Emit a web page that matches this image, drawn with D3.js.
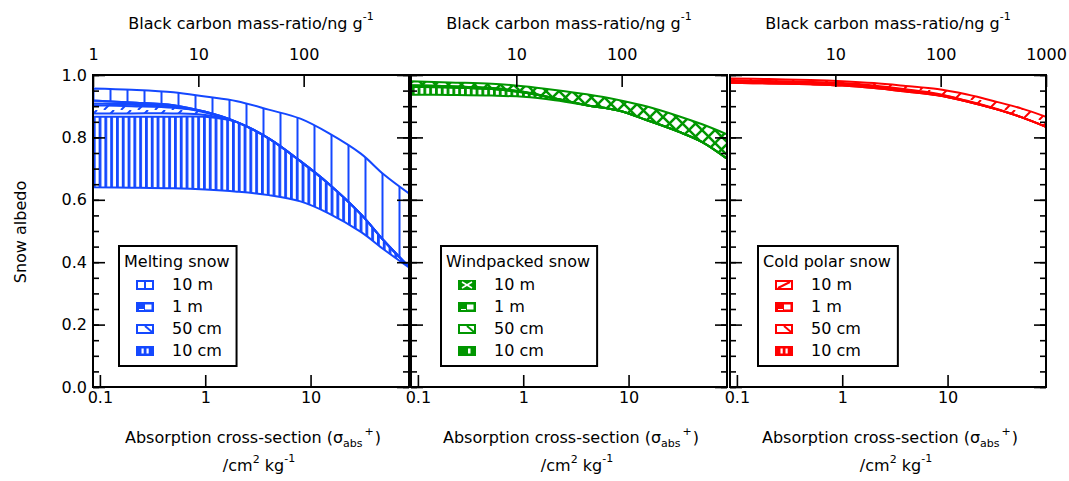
<!DOCTYPE html>
<html>
<head>
<meta charset="utf-8">
<script src="https://cdn.jsdelivr.net/npm/d3@7"></script>
<style>
  body { margin: 0; background: #fff; }
  text { font-family: "DejaVu Sans", sans-serif; }
</style>
</head>
<body>
<div id="app"></div>
<script>
// absorption cross-section sample points (cm2 kg-1)
const sigma = [0.086, 0.2, 0.5, 1, 2, 4, 8, 15, 30, 50, 86];

// Melting snow
const melt10mHi  = [0.957, 0.953, 0.945, 0.931, 0.916, 0.889, 0.860, 0.813, 0.748, 0.680, 0.620];
const melt10mLo  = [0.918, 0.912, 0.903, 0.882, 0.849, 0.797, 0.724, 0.650, 0.554, 0.468, 0.385];
const melt1mHi   = [0.918, 0.912, 0.903, 0.882, 0.849, 0.797, 0.724, 0.650, 0.554, 0.468, 0.385];
const melt1mLo   = [0.909, 0.905, 0.898, 0.880, 0.849, 0.797, 0.724, 0.650, 0.554, 0.468, 0.385];
const melt50cmHi = [0.903, 0.900, 0.895, 0.882, 0.849, 0.797, 0.724, 0.650, 0.554, 0.468, 0.385];
const melt50cmLo = [0.877, 0.877, 0.877, 0.872, 0.849, 0.797, 0.724, 0.650, 0.554, 0.468, 0.385];
const melt10cmHi = [0.866, 0.866, 0.866, 0.866, 0.849, 0.797, 0.724, 0.650, 0.554, 0.468, 0.385];
const melt10cmLo = [0.640, 0.639, 0.637, 0.633, 0.626, 0.615, 0.595, 0.556, 0.497, 0.440, 0.383];

// Windpacked snow
const wind10mHi  = [0.980, 0.976, 0.972, 0.964, 0.952, 0.938, 0.920, 0.899, 0.868, 0.842, 0.810];
const wind10mLo  = [0.967, 0.964, 0.958, 0.946, 0.925, 0.903, 0.886, 0.855, 0.818, 0.785, 0.732];
const wind1mHi   = [0.967, 0.964, 0.958, 0.946, 0.925, 0.903, 0.886, 0.855, 0.818, 0.785, 0.732];
const wind1mLo   = [0.965, 0.962, 0.956, 0.945, 0.925, 0.903, 0.886, 0.855, 0.818, 0.785, 0.732];
const wind50cmHi = [0.965, 0.962, 0.956, 0.945, 0.925, 0.903, 0.886, 0.855, 0.818, 0.785, 0.732];
const wind50cmLo = [0.962, 0.960, 0.955, 0.944, 0.925, 0.903, 0.886, 0.855, 0.818, 0.785, 0.732];
const wind10cmHi = [0.962, 0.960, 0.955, 0.944, 0.925, 0.903, 0.886, 0.855, 0.818, 0.785, 0.732];
const wind10cmLo = [0.937, 0.936, 0.934, 0.930, 0.919, 0.903, 0.886, 0.855, 0.818, 0.785, 0.732];

// Cold polar snow
const cold10mHi  = [0.989, 0.987, 0.984, 0.980, 0.974, 0.965, 0.955, 0.938, 0.913, 0.893, 0.866];
const cold10mLo  = [0.975, 0.973, 0.970, 0.966, 0.958, 0.947, 0.935, 0.916, 0.889, 0.865, 0.834];
const cold1mHi   = [0.983, 0.981, 0.978, 0.974, 0.966, 0.954, 0.940, 0.918, 0.890, 0.865, 0.834];
const cold1mLo   = [0.980, 0.978, 0.975, 0.971, 0.963, 0.951, 0.938, 0.917, 0.889, 0.865, 0.834];
const cold50cmHi = [0.980, 0.978, 0.975, 0.971, 0.963, 0.951, 0.938, 0.917, 0.889, 0.865, 0.834];
const cold50cmLo = [0.978, 0.976, 0.973, 0.969, 0.961, 0.949, 0.936, 0.916, 0.889, 0.865, 0.834];
const cold10cmHi = [0.978, 0.976, 0.973, 0.969, 0.961, 0.949, 0.936, 0.916, 0.889, 0.865, 0.834];
const cold10cmLo = [0.975, 0.973, 0.970, 0.966, 0.958, 0.947, 0.935, 0.916, 0.889, 0.865, 0.834];

const thicknessLabels = ["10 m", "1 m", "50 cm", "10 cm"];
const panelTitles = ["Melting snow", "Windpacked snow", "Cold polar snow"];
const yTicks = [0.0, 0.2, 0.4, 0.6, 0.8, 1.0];
const bottomTicks = [[0.1, 1, 10], [0.1, 1, 10], [0.1, 1, 10]];
const topTicks = [[1, 10, 100], [10, 100], [10, 100, 1000]];

const panels = [
    { color: "#1448ff", bands: [[melt10mHi, melt10mLo], [melt1mHi, melt1mLo], [melt50cmHi, melt50cmLo], [melt10cmHi, melt10cmLo]],
      fills: ["vwide", "hline", "diag", "vdense"], swatches: ["vline", "notch", "corner", "vdouble"], legendDx: 26 },
    { color: "#009600", bands: [[wind10mHi, wind10mLo], [wind1mHi, wind1mLo], [wind50cmHi, wind50cmLo], [wind10cmHi, wind10cmLo]],
      fills: ["cross", "hline", "diagr", "vdense"], swatches: ["xfill", "notch", "corner", "vsingle"], legendDx: 30 },
    { color: "#ff0000", bands: [[cold10mHi, cold10mLo], [cold1mHi, cold1mLo], [cold50cmHi, cold50cmLo], [cold10cmHi, cold10cmLo]],
      fills: ["diag", "hline", "diagr", "vdense"], swatches: ["slash", "notch", "corner", "vdouble"], legendDx: 28 }
];

const W = 1069, H = 481;
const plotTop = 75, plotBottom = 387, pw = 316;
const lefts = [93, 411, 730];
const FS = 16;

const svg = d3.select("#app").append("svg")
    .attr("width", W)
    .attr("height", H);
const defs = svg.append("defs");

const y = d3.scaleLinear().domain([0, 1]).range([plotBottom, plotTop]);

const makePattern = (id, type, color) => {
    let w = 17, h = 10;
    if (type === "vdense") w = 5.8;
    if (type === "cross") { w = 13; h = 13; }
    if (type === "hline") { w = 6; h = 3; }
    if (type === "diagr") { w = 10; h = 10; }
    const p = defs.append("pattern")
        .attr("id", id)
        .attr("patternUnits", "userSpaceOnUse")
        .attr("width", w)
        .attr("height", h);
    const line = (x1, y1, x2, y2, sw) => p.append("line")
        .attr("x1", x1).attr("y1", y1).attr("x2", x2).attr("y2", y2)
        .attr("stroke", color).attr("stroke-width", sw);
    if (type === "vwide") line(8.5, 0, 8.5, h, 2);
    if (type === "vdense") p.append("rect").attr("x", 0).attr("y", 0).attr("width", 2.8).attr("height", h).attr("fill", color);
    if (type === "diag") { line(2, h, 12, 0, 2); line(-15, h, -5, 0, 2); }
    if (type === "diagr") { line(0, 0, w, h, 2); }
    if (type === "cross") { line(0, 0, w, h, 2.5); line(w, 0, 0, h, 2.5); }
    if (type === "hline") line(0, 1.5, w, 1.5, 1.5);
};

const drawSwatch = (g, kind, color, x0, y0) => {
    const sw = 18, sh = 10;
    const filled = ["notch", "xfill", "vsingle", "vdouble"].includes(kind);
    g.append("rect")
        .attr("x", x0 + 1).attr("y", y0 + 1)
        .attr("width", sw - 2).attr("height", sh - 2)
        .attr("fill", filled ? color : "#fff")
        .attr("stroke", color).attr("stroke-width", 2);
    const ln = (x1, y1, x2, y2, c, w) => g.append("line")
        .attr("x1", x0 + x1).attr("y1", y0 + y1).attr("x2", x0 + x2).attr("y2", y0 + y2)
        .attr("stroke", c).attr("stroke-width", w);
    if (kind === "vline") ln(sw / 2, 1, sw / 2, sh - 1, color, 2);
    if (kind === "notch") {
        g.append("rect").attr("x", x0 + 9).attr("y", y0 + 2.5).attr("width", 6.5).attr("height", 5).attr("fill", "#fff");
        ln(3, 7.5, 8, 7.5, "#fff", 1);
    }
    if (kind === "corner") ln(9, 2, 16, 8, color, 2);
    if (kind === "xfill") { ln(4, 2, 14, 8, "#fff", 1.5); ln(14, 2, 4, 8, "#fff", 1.5); }
    if (kind === "vsingle") g.append("rect").attr("x", x0 + 10).attr("y", y0 + 2.5).attr("width", 2.5).attr("height", 5).attr("fill", "#fff");
    if (kind === "vdouble") {
        g.append("rect").attr("x", x0 + 5.5).attr("y", y0 + 2.5).attr("width", 2.2).attr("height", 5).attr("fill", "#fff");
        g.append("rect").attr("x", x0 + 10.5).attr("y", y0 + 2.5).attr("width", 2.2).attr("height", 5).attr("fill", "#fff");
    }
    if (kind === "slash") ln(3, sh - 2, sw - 3, 2, color, 2);
};

const styleAxis = g => {
    g.select(".domain").remove();
    g.selectAll(".tick line").attr("stroke", "#000").attr("stroke-width", 1.6);
    g.selectAll(".tick text")
        .attr("fill", "#000")
        .style("font-family", "'DejaVu Sans', sans-serif")
        .style("font-size", FS + "px");
};

panels.forEach((panel, pi) => {
    const left = lefts[pi], right = left + pw;
    const xB = d3.scaleLog().domain([0.086, 86]).range([left, right]);
    const xT = d3.scaleLog().domain([1, 1000]).range([left, right]);

    const clipId = `clip-${pi}`;
    defs.append("clipPath").attr("id", clipId)
        .append("rect").attr("x", left).attr("y", plotTop).attr("width", pw).attr("height", plotBottom - plotTop);

    panel.fills.forEach((type, bi) => makePattern(`pat-${pi}-${bi}`, type, panel.color));

    const area = d3.area()
        .x(d => xB(d.s))
        .y0(d => y(d.lo))
        .y1(d => y(d.hi))
        .curve(d3.curveCatmullRom.alpha(0.5));

    const plot = svg.append("g").attr("clip-path", `url(#${clipId})`);
    // draw thinnest-snow band first so the 10 m band sits on top
    [3, 2, 1, 0].forEach(bi => {
        const [hi, lo] = panel.bands[bi];
        const data = sigma.map((s, i) => ({ s, hi: hi[i], lo: lo[i] }));
        plot.append("path")
            .datum(data)
            .attr("d", area)
            .attr("fill", `url(#pat-${pi}-${bi})`)
            .attr("stroke", panel.color)
            .attr("stroke-width", 2)
            .attr("stroke-linejoin", "round");
    });

    // axes, ticks point inwards
    svg.append("g").attr("transform", `translate(${left},0)`)
        .call(d3.axisLeft(y).tickValues(d3.range(0, 1.001, 0.05)).tickSize(-6).tickFormat(""))
        .call(styleAxis);
    svg.append("g").attr("transform", `translate(${left},0)`)
        .call(d3.axisLeft(y).tickValues(yTicks).tickSize(-12).tickPadding(6)
            .tickFormat(pi === 0 ? d3.format(".1f") : ""))
        .call(styleAxis);
    svg.append("g").attr("transform", `translate(${right},0)`)
        .call(d3.axisRight(y).tickValues(d3.range(0, 1.001, 0.05)).tickSize(-6).tickFormat(""))
        .call(styleAxis);
    svg.append("g").attr("transform", `translate(${right},0)`)
        .call(d3.axisRight(y).tickValues(yTicks).tickSize(-12).tickFormat(""))
        .call(styleAxis);
    svg.append("g").attr("transform", `translate(0,${plotBottom})`)
        .call(d3.axisBottom(xB).tickValues(bottomTicks[pi]).tickSize(-12).tickPadding(5).tickFormat(d => String(d)))
        .call(styleAxis);
    svg.append("g").attr("transform", `translate(0,${plotTop})`)
        .call(d3.axisTop(xT).tickValues(topTicks[pi]).tickSize(-12).tickPadding(15).tickFormat(d3.format("d")))
        .call(styleAxis);

    svg.append("rect")
        .attr("x", left).attr("y", plotTop)
        .attr("width", pw).attr("height", plotBottom - plotTop)
        .attr("fill", "none").attr("stroke", "#000").attr("stroke-width", 2);

    const cx = left + pw / 2;

    // top axis title
    const tt = svg.append("text").attr("x", cx).attr("y", 29)
        .attr("text-anchor", "middle").style("font-size", FS + "px");
    tt.append("tspan").text("Black carbon mass-ratio/ng g");
    tt.append("tspan").attr("dy", -9).style("font-size", "11px").text("-1");

    // bottom axis title, two lines
    const b1 = svg.append("text").attr("x", cx + 2).attr("y", 443)
        .attr("text-anchor", "middle").style("font-size", FS + "px");
    b1.append("tspan").text("Absorption cross-section (σ");
    b1.append("tspan").attr("dy", 4).style("font-size", "11px").text("abs");
    b1.append("tspan").attr("dx", 2).attr("dy", -12).style("font-size", "11px").text("+");
    b1.append("tspan").attr("dx", 1).attr("dy", 8).text(")");

    const b2 = svg.append("text").attr("x", cx + 8).attr("y", 471)
        .attr("text-anchor", "middle").style("font-size", FS + "px");
    b2.append("tspan").text("/cm");
    b2.append("tspan").attr("dy", -8).style("font-size", "11px").text("2");
    b2.append("tspan").attr("dy", 8).text(" kg");
    b2.append("tspan").attr("dy", -9).style("font-size", "11px").text("-1");

    // legend
    const lg = svg.append("g").attr("transform", `translate(${left + panel.legendDx},246)`);
    const box = lg.append("rect").attr("x", 0).attr("y", 0).attr("height", 120)
        .attr("fill", "#fff").attr("stroke", "#000").attr("stroke-width", 2);
    const title = lg.append("text").attr("x", 5).attr("y", 21)
        .style("font-size", FS + "px").text(panelTitles[pi]);
    box.attr("width", title.node().getComputedTextLength() + 12);
    thicknessLabels.forEach((lab, i) => {
        const base = 44 + i * 22;
        drawSwatch(lg, panel.swatches[i], panel.color, 17, base - 10);
        lg.append("text").attr("x", 53).attr("y", base)
            .style("font-size", FS + "px").text(lab);
    });
});

svg.append("text")
    .attr("transform", "translate(20,232) rotate(-90)")
    .attr("text-anchor", "middle")
    .attr("dy", "0.35em")
    .style("font-size", FS + "px")
    .text("Snow albedo");
</script>
</body>
</html>
